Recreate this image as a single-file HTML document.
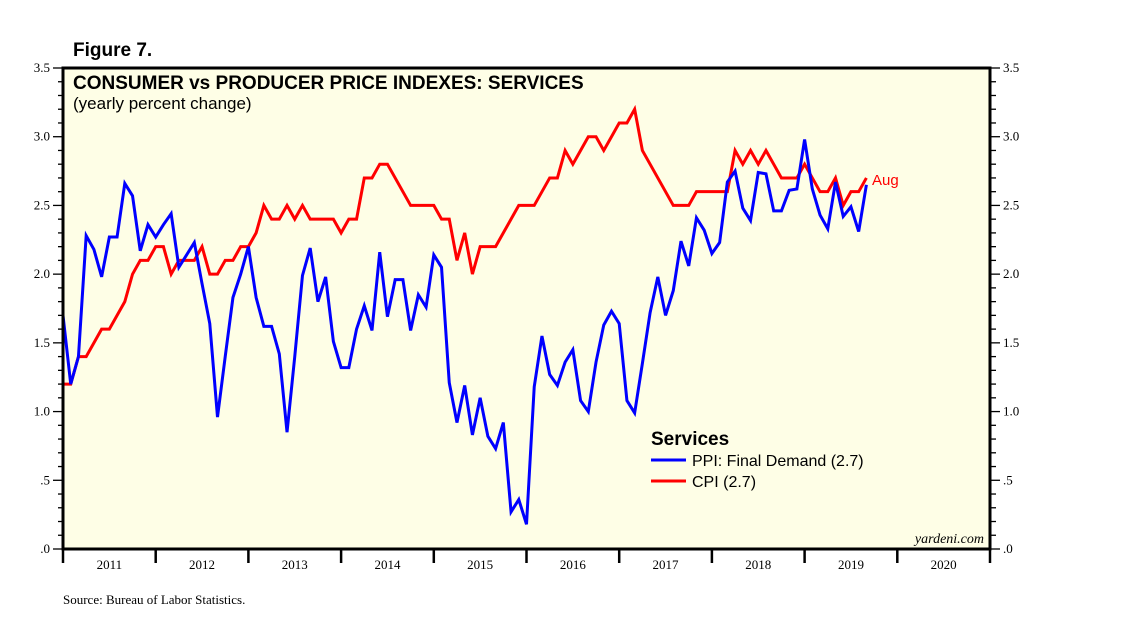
<!DOCTYPE html>
<html><head><meta charset="utf-8"><style>
body{margin:0;background:#fff;}
svg{display:block;font-family:"Liberation Sans",sans-serif;}
</style></head><body>
<svg width="1138" height="631" viewBox="0 0 1138 631" xmlns="http://www.w3.org/2000/svg">
<text x="73" y="56" font-size="19" font-weight="bold">Figure 7.</text>
<rect x="63" y="68" width="927" height="481" fill="#fefee6"/>
<g id="axes"></g>
<g id="series"></g>
<rect x="63" y="68" width="927" height="481" fill="none" stroke="#000" stroke-width="3"/>
<text x="73" y="89" font-size="19" font-weight="bold">CONSUMER vs PRODUCER PRICE INDEXES: SERVICES</text>
<text x="73" y="109" font-size="17">(yearly percent change)</text>
<text x="872" y="185" font-size="15" fill="#f00">Aug</text>
<g>
<text x="651" y="445" font-size="19" font-weight="bold">Services</text>
<line x1="651" y1="460" x2="686" y2="460" stroke="#00f" stroke-width="3"/>
<text x="692" y="466" font-size="16">PPI: Final Demand (2.7)</text>
<line x1="651" y1="481" x2="686" y2="481" stroke="#f00" stroke-width="3"/>
<text x="692" y="487" font-size="16">CPI (2.7)</text>
</g>
<text x="984" y="543" font-size="14" font-style="italic" text-anchor="end" font-family="Liberation Serif,serif">yardeni.com</text>
<text x="63" y="604" font-size="13" font-family="Liberation Serif,serif">Source: Bureau of Labor Statistics.</text>
</svg>
<script>
const yTicks=[0,0.5,1,1.5,2,2.5,3,3.5];
const yLabels=[".0",".5","1.0","1.5","2.0","2.5","3.0","3.5"];
const years=["2011","2012","2013","2014","2015","2016","2017","2018","2019","2020"];
const ppi=[1.70,1.20,1.40,2.28,2.18,1.98,2.27,2.27,2.66,2.57,2.17,2.36,2.27,2.36,2.44,2.05,2.14,2.23,1.93,1.64,0.96,1.40,1.83,2.00,2.20,1.83,1.62,1.62,1.42,0.85,1.40,1.99,2.19,1.80,1.98,1.51,1.32,1.32,1.60,1.77,1.59,2.16,1.69,1.96,1.96,1.59,1.85,1.76,2.14,2.05,1.21,0.92,1.19,0.83,1.10,0.82,0.73,0.92,0.27,0.36,0.18,1.18,1.55,1.27,1.19,1.36,1.45,1.08,1.00,1.36,1.63,1.73,1.64,1.08,0.99,1.35,1.72,1.98,1.70,1.88,2.24,2.06,2.41,2.32,2.15,2.23,2.67,2.75,2.48,2.39,2.74,2.73,2.46,2.46,2.61,2.62,2.98,2.62,2.43,2.33,2.67,2.42,2.49,2.31,2.65];
const cpi=[1.2,1.2,1.4,1.4,1.5,1.6,1.6,1.7,1.8,2.0,2.1,2.1,2.2,2.2,2.0,2.1,2.1,2.1,2.2,2.0,2.0,2.1,2.1,2.2,2.2,2.3,2.5,2.4,2.4,2.5,2.4,2.5,2.4,2.4,2.4,2.4,2.3,2.4,2.4,2.7,2.7,2.8,2.8,2.7,2.6,2.5,2.5,2.5,2.5,2.4,2.4,2.1,2.3,2.0,2.2,2.2,2.2,2.3,2.4,2.5,2.5,2.5,2.6,2.7,2.7,2.9,2.8,2.9,3.0,3.0,2.9,3.0,3.1,3.1,3.2,2.9,2.8,2.7,2.6,2.5,2.5,2.5,2.6,2.6,2.6,2.6,2.6,2.9,2.8,2.9,2.8,2.9,2.8,2.7,2.7,2.7,2.8,2.7,2.6,2.6,2.7,2.5,2.6,2.6,2.7];
const NS="http://www.w3.org/2000/svg";
const X0=63,X1=990,Y0=549,Y1=68;
function xm(i){return X0+i*(X1-X0)/120;}
function yv(v){return Y0-v*(Y0-Y1)/3.5;}
function mk(t,a,p){const e=document.createElementNS(NS,t);for(const k in a)e.setAttribute(k,a[k]);(p||document.getElementById('axes')).appendChild(e);return e;}
for(let k=0;k<=35;k++){
  const v=k/10,y=yv(v),major=k%5===0;
  const l=mk('line',{x1:major?53:58,y1:y,x2:X0,y2:y,stroke:'#000','stroke-width':1.3});
  
  
  const r=mk('line',{x1:X1,y1:y,x2:major?1000:996,y2:y,stroke:'#000','stroke-width':1.3});
  
  
}
yTicks.forEach((v,i)=>{
  const a=mk('text',{x:50,y:yv(v)+4,'text-anchor':'end','font-size':13,'font-family':'Liberation Serif,serif'});
  a.textContent=yLabels[i];
  
  
  const b=mk('text',{x:1003,y:yv(v)+4,'font-size':13,'font-family':'Liberation Serif,serif'});
  b.textContent=yLabels[i];
  
  
});
years.forEach((yr,i)=>{
  const t=mk('line',{x1:xm(i*12),y1:Y0,x2:xm(i*12),y2:563,stroke:'#000','stroke-width':2.5});
  
  
  const a=mk('text',{x:xm(i*12+6),y:569,'text-anchor':'middle','font-size':13,'font-family':'Liberation Serif,serif'});
  a.textContent=yr;
  
  
});
const t2=mk('line',{x1:X1,y1:Y0,x2:X1,y2:563,stroke:'#000','stroke-width':2.5});


function line(arr,col,name){
  const p=mk('polyline',{points:arr.map((v,i)=>xm(i)+','+yv(v)).join(' '),fill:'none',stroke:col,'stroke-width':3,'stroke-linejoin':'miter'},document.getElementById('series'));
  
  
}
line(cpi,'#f00','cpi-line');
line(ppi,'#00f','ppi-line');
</script>
</body></html>
